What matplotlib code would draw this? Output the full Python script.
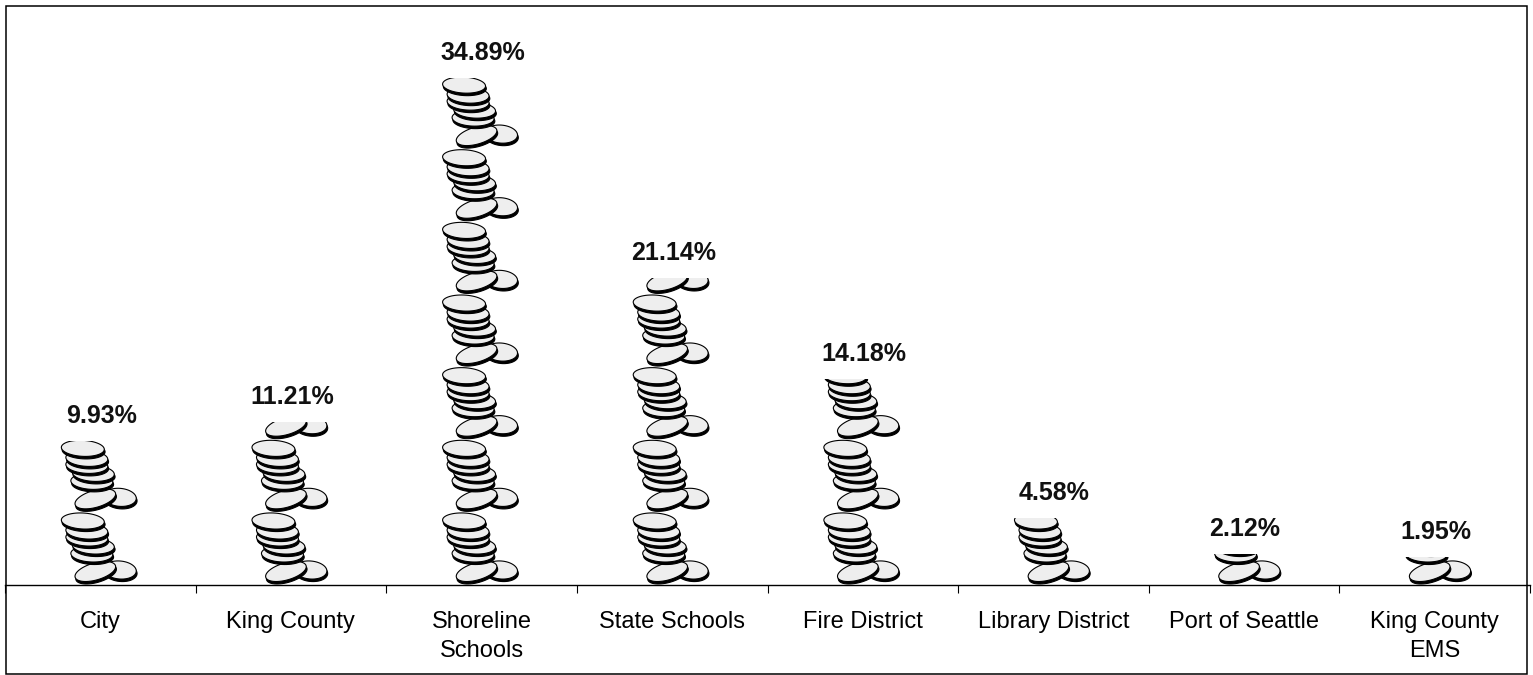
import matplotlib

matplotlib.use("Agg")
import matplotlib.pyplot as plt
import numpy as np
from matplotlib.patches import Polygon, Rectangle

categories = [
    "City",
    "King County",
    "Shoreline\nSchools",
    "State Schools",
    "Fire District",
    "Library District",
    "Port of Seattle",
    "King County\nEMS",
]
shares = [9.93, 11.21, 34.89, 21.14, 14.18, 4.58, 2.12, 1.95]
coin_unit = 5  # one pile of coins stands for 5 percent

W, H = 1533, 675
AX_LEFT, AX_RIGHT, AX_TOP, AX_BOTTOM = 5, 1530, 5, 585
PX_PER_PCT = 14.53
PX_PER_CAT = (AX_RIGHT - AX_LEFT) / len(categories)

# one pile, bottom to top: dx, height above base, half width, half height, tilt (pixels)
PILE = [
    (19.5, 15, 16.5, 9, -5),
    (-5, 13.5, 21, 8.5, 16),
    (-8.5, 31, 21, 8, -2),
    (-7, 39, 21, 8, -3),
    (-13.5, 47, 21, 8, -3),
    (-13.5, 54, 21, 8, -3),
    (-17.5, 64, 21.5, 8, -3),
]


def coin_points(cx, cy, a, b, tilt):
    """Outline of a tilted coin, in pixels relative to the bar and its base"""
    t = np.linspace(0, 2 * np.pi, 60)
    r = np.radians(tilt)
    x = a * np.cos(t)
    y = b * np.sin(t)
    return np.column_stack(
        [cx + x * np.cos(r) - y * np.sin(r), cy + x * np.sin(r) + y * np.cos(r)]
    )


def to_data(points, bar, base):
    return np.column_stack(
        [bar + points[:, 0] / PX_PER_CAT, base + points[:, 1] / PX_PER_PCT]
    )


def draw_bar(ax, bar, value):
    clip = Rectangle((bar - 0.5, 0), 1, value, transform=ax.transData)
    for n in range(int(np.ceil(value / coin_unit))):
        base = n * coin_unit
        for dx, dy, a, b, tilt in PILE:
            outline = coin_points(dx, dy, a, b, tilt)
            shadow = Polygon(
                to_data(outline + [0.8, -2.5], bar, base),
                facecolor="black",
                edgecolor="black",
                linewidth=0.8,
            )
            face = Polygon(
                to_data(outline, bar, base),
                facecolor="#eeeeee",
                edgecolor="black",
                linewidth=0.8,
            )
            for patch in (shadow, face):
                ax.add_patch(patch)
                patch.set_clip_path(clip)


plt.rcParams["font.family"] = ["Liberation Sans", "DejaVu Sans"]

fig = plt.figure(figsize=(W / 100, H / 100), dpi=100)

# outer chart frame
fig.add_artist(
    Rectangle(
        (5.5 / W, 1 - 674 / H),
        (1527 - 5.5) / W,
        (674 - 5.5) / H,
        transform=fig.transFigure,
        fill=False,
        edgecolor="black",
        linewidth=1.1,
    )
)

ax = fig.add_axes(
    [
        AX_LEFT / W,
        1 - AX_BOTTOM / H,
        (AX_RIGHT - AX_LEFT) / W,
        (AX_BOTTOM - AX_TOP) / H,
    ]
)
ax.patch.set_visible(False)
ax.set_xlim(-0.5, len(categories) - 0.5)
ax.set_ylim(0, (AX_BOTTOM - AX_TOP) / PX_PER_PCT)

for i, value in enumerate(shares):
    draw_bar(ax, i, value)
    ax.annotate(
        f"{value:.2f}%",
        (i, value),
        xytext=(1, 25),
        textcoords="offset pixels",
        ha="center",
        va="center",
        fontsize=18,
        fontweight="bold",
        color="#111111",
    )
    ax.text(
        i,
        -26 / PX_PER_PCT,
        categories[i],
        ha="center",
        va="top",
        fontsize=17,
        linespacing=1.42,
        clip_on=False,
    )

for side in ("top", "left", "right"):
    ax.spines[side].set_visible(False)
ax.spines["bottom"].set_linewidth(1)
ax.set_yticks([])
ax.set_xticks(np.arange(len(categories) + 1) - 0.5)
ax.set_xticklabels([])
ax.tick_params(axis="x", length=6, width=0.8, direction="out")

fig.savefig("out.png", dpi=100)
